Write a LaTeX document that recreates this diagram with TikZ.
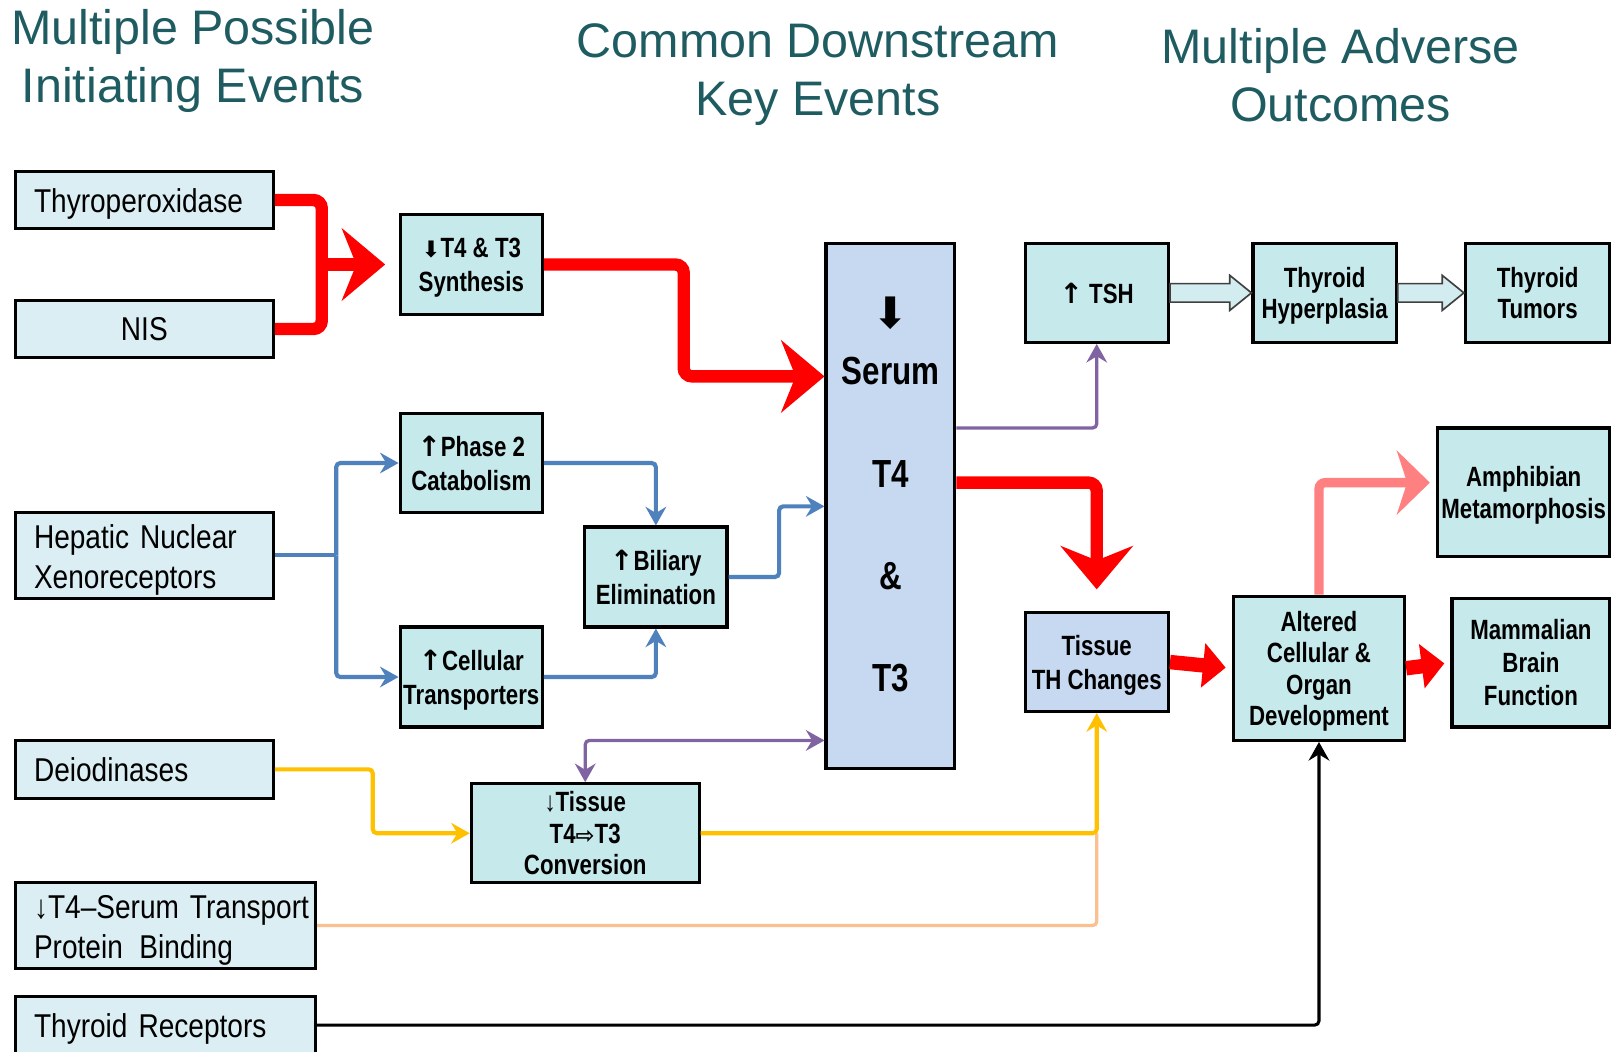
\documentclass[tikz,border=0pt]{standalone}
\usepackage{fontspec}
\setmainfont{Liberation Sans}
\newfontfamily\nfont{Liberation Sans}[FakeStretch=0.85]
\newfontfamily\bfont{Liberation Sans Bold}[FakeStretch=0.8]
\newfontfamily\sfont{DejaVu Sans}
\newfontfamily\sbfont{DejaVu Sans Bold}
\usetikzlibrary{arrows.meta,calc}
\definecolor{leftfill}{HTML}{DAEEF3}
\definecolor{midfill}{HTML}{C6E9EC}
\definecolor{bluefill}{HTML}{C6D9F1}
\definecolor{titlecol}{HTML}{1F5C61}
\definecolor{redc}{HTML}{FF0000}
\definecolor{bluec}{HTML}{4F81BD}
\definecolor{purpc}{HTML}{8064A2}
\definecolor{yelc}{HTML}{FFC000}
\definecolor{peachc}{HTML}{FAC090}
\definecolor{pinkc}{HTML}{FF8080}
\definecolor{blkfill}{HTML}{D3ECF0}
\begin{document}
\begin{tikzpicture}[x=0.5pt,y=-0.5pt,
  box/.style={draw=black, line width=1.5pt, inner xsep=0.5pt, inner ysep=1pt, align=center, text depth=-1.5pt},
  lbox/.style={box, fill=leftfill, font=\nfont\fontsize{16}{19.5}\selectfont},
  lboxl/.style={lbox, inner xsep=9pt, align=left},
  mbox/.style={box, fill=midfill, font=\bfont\fontsize{13.5}{16.5}\selectfont},
  bbox/.style={mbox, fill=bluefill},
  title/.style={align=center, text=titlecol, font=\fontsize{23.5}{28}\selectfont},
  redline/.style={draw=redc, line width=6pt, rounded corners=4pt},
  bigtip/.tip={Stealth[length=21pt,width=35pt,inset=7pt]},
  smalltip/.tip={Stealth[length=9pt,width=10pt,inset=3pt]},
  pinktip/.tip={Stealth[length=16pt,width=31pt,inset=5pt]},
  shorttip/.tip={Triangle[length=11pt,width=21pt]},
  bluline/.style={draw=bluec, line width=2pt, rounded corners=2pt},
  purpline/.style={draw=purpc, line width=1.6pt, rounded corners=2pt},
  yelline/.style={draw=yelc, line width=2pt, rounded corners=2pt},
  peachline/.style={draw=peachc, line width=1.6pt, rounded corners=2pt},
  blkline/.style={draw=black, line width=1.5pt, rounded corners=2pt},
  pinkline/.style={draw=pinkc, line width=4.5pt, rounded corners=3pt},
  redshort/.style={draw=redc, line width=7pt, -{shorttip}, shorten >=3pt},
  blockarr/.style={draw=black!75, line width=0.8pt, fill=blkfill}
]
\useasboundingbox (0,0) rectangle (1568,1020);

% titles
\node[title] (t1) at (187,59) {Multiple Possible\\Initiating Events};
\node[title] (t2) at (793,72) {Common Downstream\\Key Events};
\node[title] (t3) at (1300,73) {Multiple Adverse\\Outcomes};

% left boxes
\node[lboxl, minimum width=125pt, minimum height=28pt, text width=107pt] (thp) at (140,194) {\mbox{Thyroperoxidase}};
\node[lbox, minimum width=125pt, minimum height=28pt] (nis) at (140,319) {NIS};
\node[lboxl, minimum width=125pt, minimum height=41.5pt, text width=107pt, text depth=18pt] (hnx) at (140,538.5) {\mbox{Hepatic Nuclear}\\\mbox{Xenoreceptors}};
\node[lboxl, minimum width=125pt, minimum height=28pt, text width=107pt] (deio) at (140,746) {\mbox{Deiodinases}};
\node[lboxl, minimum width=145.5pt, minimum height=41.5pt, text width=127.5pt, text depth=18pt] (stp) at (160.5,897.5) {\mbox{↓T4–Serum Transport}\\\mbox{Protein\hspace{8pt}Binding}};
\node[lboxl, minimum width=145.5pt, minimum height=28pt, text width=127.5pt] (trc) at (160.5,994) {\mbox{Thyroid Receptors}};

% middle boxes
\node[mbox, minimum width=69pt, minimum height=48.5pt] (syn) at (457,256.5) {{\sfont\fontsize{11}{12}\selectfont⬇}T4 \& T3\\Synthesis};
\node[mbox, minimum width=69pt, minimum height=48pt] (ph2) at (457,449) {{\sbfont↑}Phase 2\\Catabolism};
\node[mbox, minimum width=69pt, minimum height=48.5pt] (cel) at (457,656.5) {{\sbfont↑}Cellular\\Transporters};
\node[mbox, minimum width=69pt, minimum height=48.5pt] (bil) at (636,559.5) {{\sbfont↑}Biliary\\Elimination};
\node[mbox, minimum width=110.5pt, minimum height=48pt, font=\bfont\fontsize{13.5}{15.3}\selectfont] (conv) at (567.5,808) {↓Tissue\\T4{\sbfont\fontsize{11}{12}\selectfont⇨}T3\\Conversion};
\node[bbox, minimum width=62.5pt, minimum height=254.5pt, text depth=11.5pt, font=\bfont\fontsize{19}{23}\selectfont] (serum) at (863.5,490.5)
  {{\sfont\fontsize{21}{22}\selectfont⬇}\\[4.5pt]Serum\\[26.5pt]T4\\[26.5pt]\&\\[26.5pt]T3};

% right boxes
\node[mbox, minimum width=69.5pt, minimum height=48pt] (tsh) at (1063.5,284) {{\sbfont↑} TSH};
\node[mbox, minimum width=69.5pt, minimum height=48pt, font=\bfont\fontsize{13.5}{15}\selectfont] (hyp) at (1284.5,284) {Thyroid\\Hyperplasia};
\node[mbox, minimum width=70pt, minimum height=48pt, font=\bfont\fontsize{13.5}{15}\selectfont] (tum) at (1491,284) {Thyroid\\Tumors};
\node[mbox, minimum width=83.5pt, minimum height=62.5pt, font=\bfont\fontsize{13.5}{15.5}\selectfont] (amph) at (1477.5,477.5) {Amphibian\\Metamorphosis};
\node[bbox, minimum width=69.5pt, minimum height=48pt] (tth) at (1063.5,642) {Tissue\\TH Changes};
\node[mbox, minimum width=83pt, minimum height=70pt, font=\bfont\fontsize{13.5}{15.2}\selectfont] (alt) at (1279,648) {Altered\\Cellular \&\\Organ\\Development};
\node[mbox, minimum width=76.5pt, minimum height=62.5pt, font=\bfont\fontsize{13.5}{16}\selectfont] (mam) at (1484.5,642.5) {Mammalian\\Brain\\Function};

% red fork into synthesis
\coordinate (fk) at (312,256.5);
\draw[redline] (thp.east) -| (fk) |- (nis.east);
\draw[redline, -{bigtip}, shorten >=6.5pt] (fk) -- (syn.west);

% synthesis to serum
\draw[redline, -{bigtip}] (syn.east) -| (663,365) -- (serum.west |- 0,365);

% serum to TSH, serum to tissue TH
\draw[purpline, -{smalltip}] (serum.east |- 0,415) -| (tsh.south);
\draw[redline, -{bigtip}, shorten >=10.5pt] (serum.east |- 0,468) -| (tth.north);

% blue hepatic pathway
\coordinate (bf) at (326,538.5);
\draw[bluline] (hnx.east) -- (bf);
\draw[bluline, -{smalltip}] (bf) |- (ph2.west);
\draw[bluline, -{smalltip}] (bf) |- (cel.west);
\draw[bluline, -{smalltip}] (ph2.east) -| (bil.north);
\draw[bluline, -{smalltip}] (cel.east) -| (bil.south);
\draw[bluline, -{smalltip}] (bil.east) -- ++(49,0) |- (serum.west |- 0,491);

% purple double arrow
\draw[purpline, {smalltip}-{smalltip}] (conv.north) |- (serum.west |- 0,718);

% yellow / peach
\draw[yelline, -{smalltip}] (deio.east) -- ++(95,0) |- (conv.west);
\draw[peachline] (stp.east) -| (tth.south |- conv.east);
\draw[yelline, -{smalltip}] (conv.east) -| (tth.south);

% black
\draw[blkline, -{smalltip}] (trc.east) -| (alt.south);

% short red arrows
\draw[redshort] (tth.east) -- (alt.west);
\draw[redshort] (alt.east) -- (mam.west);

% pink
\draw[pinkline, -{pinktip}, shorten >=3pt] (alt.north) |- (amph.west |- 0,468);

% block arrows
\draw[blockarr] ($(tsh.east)+(0,-9)$) -- ($(hyp.west)+(-21,-9)$) -- ($(hyp.west)+(-21,-17)$) -- (hyp.west)
  -- ($(hyp.west)+(-21,17)$) -- ($(hyp.west)+(-21,9)$) -- ($(tsh.east)+(0,9)$) -- cycle;
\draw[blockarr] ($(hyp.east)+(0,-9)$) -- ($(tum.west)+(-21,-9)$) -- ($(tum.west)+(-21,-17)$) -- (tum.west)
  -- ($(tum.west)+(-21,17)$) -- ($(tum.west)+(-21,9)$) -- ($(hyp.east)+(0,9)$) -- cycle;
\end{tikzpicture}
\end{document}
